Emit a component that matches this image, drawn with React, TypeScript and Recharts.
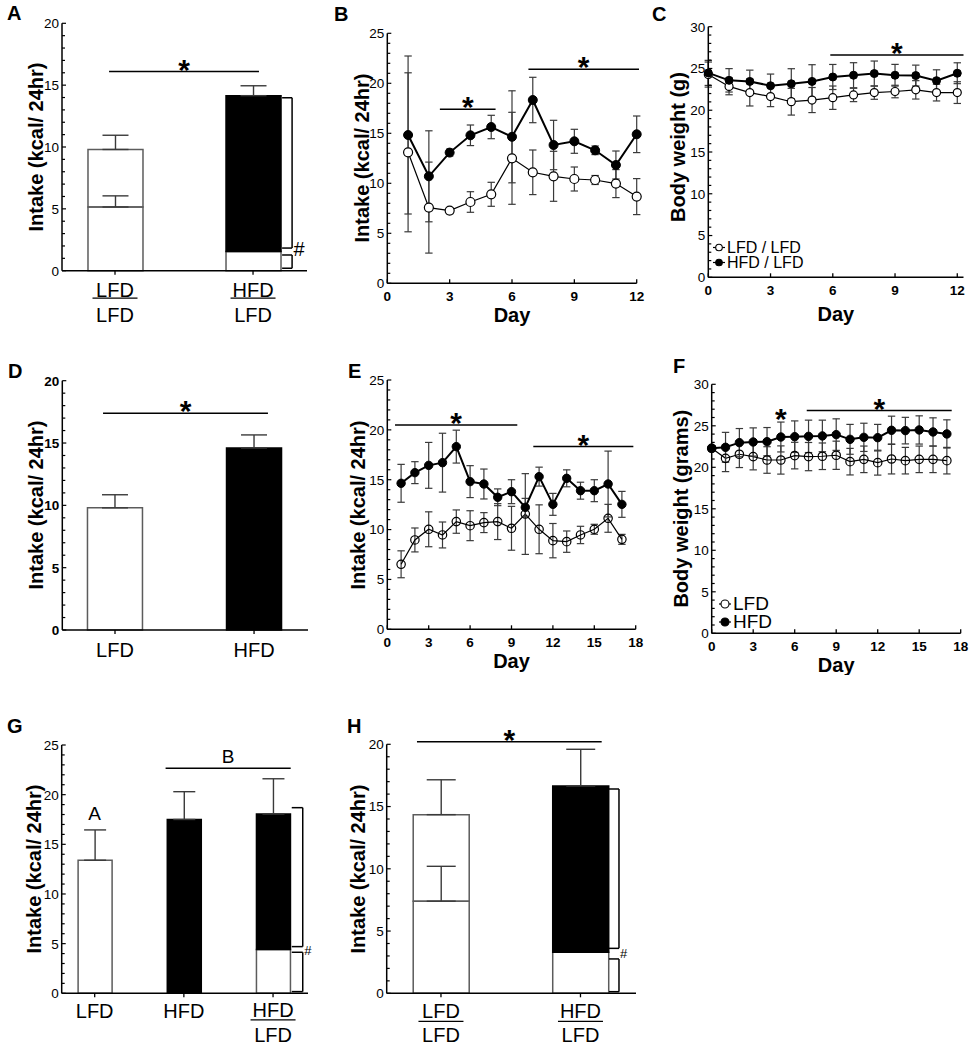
import React from "react";
import {
  Bar,
  BarChart,
  Cell,
  ErrorBar,
  Legend,
  Line,
  LineChart,
  ReferenceDot,
  ReferenceLine,
  XAxis,
  YAxis,
} from "recharts";

const FONT = '"Liberation Sans", Arial, Helvetica, sans-serif';

// ---------- data ----------

// A: 2-day intake (kcal/24hr), stacked by the diet eaten
const aLabels = [["LFD", "LFD"], ["HFD", "LFD"]];
const aLowerDiet = ["LFD", "LFD"];
const aLower = [5.15, 1.55];
const aLowerErr = [0.9, null];
const aUpperDiet = ["LFD", "HFD"];
const aUpper = [4.65, 12.6];
const aUpperErr = [1.15, 0.8];

// B: daily intake, 12 days
const bDays = [1, 2, 3, 4, 5, 6, 7, 8, 9, 10, 11, 12];
const bHfd = [14.83, 10.7, 13.07, 14.8, 15.63, 14.65, 18.33, 13.83, 14.2, 13.3, 11.83, 14.9];
const bHfdErr = [7.9, 4.55, 0.35, 1.03, 1.17, 4.6, 2.27, 2.47, 1.2, 0.43, 1.4, 1.83];
const bLfd = [13.1, 7.57, 7.27, 8.13, 8.9, 12.5, 11.1, 10.7, 10.43, 10.33, 9.97, 8.67];
const bLfdErr = [7.95, 4.55, 0.3, 1.03, 1.2, 4.6, 2.23, 2.5, 1.2, 0.45, 1.4, 1.8];

// C: body weight (g), days 0-12
const cSeries = ["LFD / LFD", "HFD / LFD"];
const cDays = [0, 1, 2, 3, 4, 5, 6, 7, 8, 9, 10, 11, 12];
const cHfd = [24.47, 23.58, 23.45, 22.93, 23.17, 23.45, 23.98, 24.19, 24.39, 24.19, 24.15, 23.54, 24.43];
const cHfdErr = [1.5, 1.4, 1.35, 1.4, 1.8, 2.0, 1.5, 1.5, 1.5, 1.3, 1.25, 1.3, 1.25];
const cLfd = [24.27, 22.85, 22.11, 21.63, 21.02, 21.22, 21.5, 21.83, 22.11, 22.24, 22.44, 22.11, 22.11];
const cLfdErr = [1.5, 1.0, 1.6, 1.2, 1.6, 1.5, 1.4, 0.8, 0.8, 0.75, 1.1, 1.0, 1.3];

// D: average intake
const dLabels = [["LFD"], ["HFD"]];
const dDiet = ["LFD", "HFD"];
const dIntake = [9.8, 14.6];
const dErr = [1.05, 1.05];

// E: daily intake, 17 days
const eDays = [1, 2, 3, 4, 5, 6, 7, 8, 9, 10, 11, 12, 13, 14, 15, 16, 17];
const eHfd = [14.64, 15.71, 16.44, 16.71, 18.32, 14.81, 14.57, 13.24, 13.8, 12.23, 15.31, 12.53, 15.14, 13.9, 13.9, 14.57, 12.53];
const eHfdErr = [1.9, 1.1, 2.3, 2.95, 1.65, 1.6, 1.5, 0.84, 1.2, 0.9, 0.95, 1.1, 0.85, 0.85, 1.1, 3.3, 1.3];
const eLfd = [6.52, 8.96, 10.03, 9.46, 10.8, 10.39, 10.7, 10.8, 10.13, 11.56, 10.03, 8.89, 8.79, 9.46, 10.03, 11.13, 9.02];
const eLfdErr = [1.35, 1.2, 1.75, 1.3, 1.17, 1.5, 1.0, 1.8, 2.2, 4.05, 2.45, 1.72, 1.07, 0.87, 0.5, 1.4, 0.5];

// F: body weight (grams), days 0-17
const fSeries = ["LFD", "HFD"];
const fDays = [0, 1, 2, 3, 4, 5, 6, 7, 8, 9, 10, 11, 12, 13, 14, 15, 16, 17];
const fHfd = [22.29, 22.41, 22.97, 23.05, 23.09, 23.65, 23.69, 23.73, 23.78, 23.94, 23.37, 23.61, 23.57, 24.46, 24.42, 24.5, 24.26, 24.02];
const fHfdErr = [0.3, 1.8, 1.7, 1.7, 1.7, 1.8, 1.9, 1.95, 1.9, 1.9, 1.8, 1.7, 1.6, 1.7, 1.6, 1.7, 1.7, 1.7];
const fLfd = [22.29, 21.08, 21.57, 21.29, 20.88, 20.88, 21.41, 21.29, 21.33, 21.45, 20.68, 20.96, 20.56, 21.0, 20.8, 20.96, 20.96, 20.8];
const fLfdErr = [0.3, 1.6, 1.6, 1.6, 1.6, 1.7, 1.6, 1.7, 1.6, 1.7, 1.6, 1.6, 1.5, 1.8, 1.6, 1.6, 1.6, 1.6];

// G: intake, three groups
const gLabels = [["LFD"], ["HFD"], ["HFD", "LFD"]];
const gLowerDiet = ["LFD", "HFD", "LFD"];
const gLower = [13.4, 17.5, 4.4];
const gLowerErr = [3.05, 2.8, null];
const gUpperDiet = ["LFD", "LFD", "HFD"];
const gUpper = [0, 0, 13.65];
const gUpperErr = [null, null, 3.55];

// H: intake, stacked by diet
const hLabels = [["LFD", "LFD"], ["HFD", "LFD"]];
const hLowerDiet = ["LFD", "LFD"];
const hLower = [7.4, 3.3];
const hLowerErr = [2.8, null];
const hUpperDiet = ["LFD", "HFD"];
const hUpper = [6.95, 13.35];
const hUpperErr = [2.8, 2.95];

const ticks20 = Array.from({ length: 21 }, (_, i) => i);
const ticks25 = Array.from({ length: 26 }, (_, i) => i);
const ticks30 = Array.from({ length: 31 }, (_, i) => i);

// ---------- helpers ----------

type Box = { L: number; T: number; W: number; H: number };
type Plot = { left: number; top: number; right: number; bottom: number };
type Sig = { x1: number; x2: number; y: number; text: string };
type Bracket = { x: number; y1: number; y2: number; len: number };
type Mark = { x: number; y: number; text: string; size?: number; dx?: number; star?: boolean };

const AXIS = { stroke: "#000", strokeWidth: 1.5 };
const ERR = "#3a3a3a";

const dietFill = (d: string) => (d === "HFD" ? "#000" : "none");
const dietStroke = (d: string) => (d === "HFD" ? "#000" : "#5c5c5c");

function barRows(
  lower: number[],
  lowerErr: (number | null)[],
  lowerDiet: string[],
  upper?: number[],
  upperErr?: (number | null)[],
  upperDiet?: string[]
) {
  return lower.map((v, i) => ({
    pos: i + 1,
    lower: v,
    lowerErr: lowerErr[i] == null ? null : [0, lowerErr[i]],
    lowerDiet: lowerDiet[i],
    upper: upper ? upper[i] : 0,
    upperErr: upperErr && upperErr[i] != null ? [0, upperErr[i]] : null,
    upperDiet: upperDiet ? upperDiet[i] : "LFD",
  }));
}

function lineRows(days: number[], hfd: number[], hfdErr: number[], lfd: number[], lfdErr: number[]) {
  return days.map((day, i) => ({ day, hfd: hfd[i], hfdErr: hfdErr[i], lfd: lfd[i], lfdErr: lfdErr[i] }));
}

function YTick(props: any) {
  const { x, y, payload, bold } = props;
  const major = payload.value % 5 === 0;
  return (
    <g>
      <line x1={x} x2={x + (major ? 4 : 3)} y1={y} y2={y} stroke="#000" strokeWidth={1.2} />
      {major && (
        <text x={x - 3} y={y} dy="0.36em" textAnchor="end" fontSize={13.5} fontWeight={bold ? 700 : 400} fill="#000">
          {payload.value}
        </text>
      )}
    </g>
  );
}

function DayTick(props: any) {
  const { x, y, payload } = props;
  return (
    <g>
      <line x1={x} x2={x} y1={y} y2={y - 4} stroke="#000" strokeWidth={1.3} />
      <text x={x} y={y + 18} textAnchor="middle" fontSize={13.5} fontWeight={700} fill="#000">
        {payload.value}
      </text>
    </g>
  );
}

function CatTick(props: any) {
  const { x, y, payload, labels, dy } = props;
  const lab: string[] = labels[Math.round(payload.value) - 1] || [];
  return (
    <g>
      <line x1={x} x2={x} y1={y} y2={y + 4} stroke="#000" strokeWidth={1.3} />
      {lab.length === 1 ? (
        <text x={x} y={y + dy[0] + 1} textAnchor="middle" fontSize={20} fill="#000">
          {lab[0]}
        </text>
      ) : (
        <g>
          <text x={x} y={y + dy[0]} textAnchor="middle" fontSize={20} fill="#000">
            {lab[0]}
          </text>
          <line x1={x - 22.5} x2={x + 22.5} y1={y + dy[1]} y2={y + dy[1]} stroke="#000" strokeWidth={1.3} />
          <text x={x} y={y + dy[2]} textAnchor="middle" fontSize={20} fill="#000">
            {lab[1]}
          </text>
        </g>
      )}
    </g>
  );
}

const yTitle = (text: string, cx: number, cy: number) => () => (
  <text
    x={cx}
    y={cy}
    transform={`rotate(-90 ${cx} ${cy})`}
    textAnchor="middle"
    dominantBaseline="central"
    fontSize={20}
    fontWeight={700}
    fill="#000"
  >
    {text}
  </text>
);

const dayTitle = (cx: number, y: number) => () => (
  <text x={cx} y={y} textAnchor="middle" fontSize={20} fontWeight={700} fill="#000">
    Day
  </text>
);

const sigLabel = (text: string) =>
  text === "*"
    ? { value: "*", position: "top" as const, offset: -8, fontSize: 30, fontWeight: 700, fill: "#000" }
    : { value: text, position: "top" as const, offset: 5, fontSize: 19, fontWeight: 400, fill: "#000" };

function renderSigs(sigs: Sig[]) {
  return sigs.map((s, i) => (
    <ReferenceLine
      key={"sig" + i}
      segment={[{ x: s.x1, y: s.y }, { x: s.x2, y: s.y }]}
      stroke="#000"
      strokeWidth={1.5}
      ifOverflow="visible"
      label={sigLabel(s.text)}
    />
  ));
}

// a bracket is a vertical stroke with two short ticks pointing back at the bar
function renderBrackets(brackets: Bracket[], pxPerUnit: number) {
  return brackets.flatMap((b, i) => {
    const k = b.len / pxPerUnit;
    const segs = [
      [{ x: b.x - k, y: b.y1 }, { x: b.x, y: b.y1 }],
      [{ x: b.x, y: b.y1 }, { x: b.x, y: b.y2 }],
      [{ x: b.x - k, y: b.y2 }, { x: b.x, y: b.y2 }],
    ];
    return segs.map((seg, j) => (
      <ReferenceLine
        key={`br${i}-${j}`}
        segment={seg}
        stroke="#000"
        strokeWidth={1.5}
        ifOverflow="visible"
      />
    ));
  });
}

function renderMarks(marks: Mark[]) {
  return marks.map((m, i) => (
    <ReferenceDot
      key={"mk" + i}
      x={m.x}
      y={m.y}
      ifOverflow="visible"
      shape={(p: any) =>
        m.star ? (
          <text x={p.cx} y={p.cy + 8} textAnchor="middle" fontSize={30} fontWeight={700} fill="#000">
            *
          </text>
        ) : (
          <text
            x={p.cx + (m.dx ?? 0)}
            y={p.cy}
            textAnchor={m.dx ? "start" : "middle"}
            dominantBaseline="central"
            fontSize={m.size}
            fill="#000"
          >
            {m.text}
          </text>
        )
      }
    />
  ));
}

type BarCfg = {
  box: Box;
  plot: Plot;
  rows: any[];
  labels: string[][];
  xDomain: [number, number];
  yMax: number;
  yTicks: number[];
  barSize: number;
  cap: number;
  tickDy: number[];
  boldY?: boolean;
  title: [number, number];
  sigs: Sig[];
  brackets: Bracket[];
  marks: Mark[];
};

function BarPanel({ cfg }: { cfg: BarCfg }) {
  const { box, plot, rows } = cfg;
  const pxPerUnit = (plot.right - plot.left) / (cfg.xDomain[1] - cfg.xDomain[0]);
  return (
    <div style={{ position: "absolute", left: box.L, top: box.T }}>
      <BarChart
        width={box.W}
        height={box.H}
        data={rows}
        margin={{ top: plot.top - box.T, right: box.L + box.W - plot.right, bottom: 0, left: 0 }}
      >
        <XAxis
          type="number"
          dataKey="pos"
          domain={cfg.xDomain}
          ticks={rows.map((r) => r.pos)}
          interval={0}
          height={box.T + box.H - plot.bottom}
          tickSize={0}
          tickMargin={0}
          tickLine={false}
          axisLine={AXIS}
          tick={(p: any) => <CatTick {...p} labels={cfg.labels} dy={cfg.tickDy} />}
        />
        <YAxis
          type="number"
          domain={[0, cfg.yMax]}
          ticks={cfg.yTicks}
          interval={0}
          width={plot.left - box.L}
          tickSize={0}
          tickMargin={0}
          tickLine={false}
          axisLine={AXIS}
          tick={(p: any) => <YTick {...p} bold={cfg.boldY} />}
          label={yTitle("Intake (kcal/ 24hr)", cfg.title[0] - box.L, cfg.title[1] - box.T)}
        />
        <Bar dataKey="lower" stackId="s" barSize={cfg.barSize} isAnimationActive={false}>
          {rows.map((r, i) => (
            <Cell key={i} fill={dietFill(r.lowerDiet)} stroke={dietStroke(r.lowerDiet)} strokeWidth={1.5} />
          ))}
          <ErrorBar dataKey="lowerErr" direction="y" width={cfg.cap} stroke={ERR} strokeWidth={1.4} />
        </Bar>
        <Bar dataKey="upper" stackId="s" barSize={cfg.barSize} isAnimationActive={false}>
          {rows.map((r, i) => (
            <Cell key={i} fill={dietFill(r.upperDiet)} stroke={dietStroke(r.upperDiet)} strokeWidth={1.5} />
          ))}
          <ErrorBar dataKey="upperErr" direction="y" width={cfg.cap} stroke={ERR} strokeWidth={1.4} />
        </Bar>
        {renderSigs(cfg.sigs)}
        {renderBrackets(cfg.brackets, pxPerUnit)}
        {renderMarks(cfg.marks)}
      </BarChart>
    </div>
  );
}

type LineCfg = {
  box: Box;
  plot: Plot;
  rows: any[];
  xMax: number;
  xTicks: number[];
  yMax: number;
  yTicks: number[];
  yLabel: string;
  title: [number, number];
  dayY: number;
  r: number;
  openFill: string;
  sigs: Sig[];
  marks: Mark[];
  legend?: { names: string[]; left: number; top: number; fontSize: number; rowH: number; r: number };
};

function LinePanel({ cfg }: { cfg: LineCfg }) {
  const { box, plot, rows } = cfg;
  const lg = cfg.legend;
  const dayX = (plot.left + plot.right) / 2 - box.L;
  return (
    <div style={{ position: "absolute", left: box.L, top: box.T }}>
      <LineChart
        width={box.W}
        height={box.H}
        data={rows}
        margin={{ top: plot.top - box.T, right: box.L + box.W - plot.right, bottom: 0, left: 0 }}
      >
        <XAxis
          type="number"
          dataKey="day"
          domain={[0, cfg.xMax]}
          ticks={cfg.xTicks}
          interval={0}
          height={box.T + box.H - plot.bottom}
          tickSize={0}
          tickMargin={0}
          tickLine={false}
          axisLine={AXIS}
          tick={(p: any) => <DayTick {...p} />}
          label={dayTitle(dayX, cfg.dayY - box.T)}
        />
        <YAxis
          type="number"
          domain={[0, cfg.yMax]}
          ticks={cfg.yTicks}
          interval={0}
          width={plot.left - box.L}
          tickSize={0}
          tickMargin={0}
          tickLine={false}
          axisLine={AXIS}
          tick={(p: any) => <YTick {...p} />}
          label={yTitle(cfg.yLabel, cfg.title[0] - box.L, cfg.title[1] - box.T)}
        />
        <Line
          dataKey="lfd"
          type="linear"
          stroke="#000"
          strokeWidth={1.2}
          dot={{ r: cfg.r, fill: cfg.openFill, stroke: "#000", strokeWidth: 1.2 }}
          activeDot={false}
          isAnimationActive={false}
        >
          <ErrorBar dataKey="lfdErr" direction="y" width={3.7} stroke={ERR} strokeWidth={1.2} />
        </Line>
        <Line
          dataKey="hfd"
          type="linear"
          stroke="#000"
          strokeWidth={2}
          dot={{ r: cfg.r, fill: "#000", stroke: "#000", strokeWidth: 1 }}
          activeDot={false}
          isAnimationActive={false}
        >
          <ErrorBar dataKey="hfdErr" direction="y" width={3.7} stroke={ERR} strokeWidth={1.2} />
        </Line>
        {renderSigs(cfg.sigs)}
        {renderMarks(cfg.marks)}
        {lg && (
          <Legend
            layout="vertical"
            align="center"
            verticalAlign="middle"
            wrapperStyle={{ left: lg.left, top: lg.top, width: "auto" }}
            content={() => (
              <div style={{ fontFamily: FONT, fontSize: lg.fontSize, color: "#000" }}>
                {lg.names.map((name, i) => (
                  <div key={name} style={{ display: "flex", alignItems: "center", height: lg.rowH }}>
                    <svg width={14} height={lg.rowH}>
                      <line x1={1} x2={13} y1={lg.rowH / 2} y2={lg.rowH / 2} stroke="#000" strokeWidth={1.2} />
                      <circle
                        cx={7}
                        cy={lg.rowH / 2}
                        r={lg.r}
                        fill={i === 0 ? "#fff" : "#000"}
                        stroke="#000"
                        strokeWidth={1.1}
                      />
                    </svg>
                    <span style={{ marginLeft: 1, whiteSpace: "nowrap", lineHeight: `${lg.rowH}px` }}>{name}</span>
                  </div>
                ))}
              </div>
            )}
          />
        )}
      </LineChart>
    </div>
  );
}

// ---------- panel layouts ----------

const panelA: BarCfg = {
  box: { L: 0, T: 0, W: 330, H: 330 },
  plot: { left: 62, top: 23.3, right: 307, bottom: 270.7 },
  rows: barRows(aLower, aLowerErr, aLowerDiet, aUpper, aUpperErr, aUpperDiet),
  labels: aLabels,
  xDomain: [0.616, 2.391],
  yMax: 20,
  yTicks: ticks20,
  barSize: 55,
  cap: 13,
  tickDy: [26, 27.5, 51],
  title: [36, 147],
  sigs: [{ x1: 0.957, x2: 2.043, y: 16.1, text: "*" }],
  brackets: [
    { x: 2.283, y1: 13.98, y2: 1.83, len: 10 },
    { x: 2.283, y1: 1.27, y2: 0.2, len: 10 },
  ],
  marks: [{ x: 2.283, y: 1.73, text: "#", size: 20, dx: 1.5 }],
};

const panelD: BarCfg = {
  box: { L: 0, T: 330, W: 330, H: 330 },
  plot: { left: 62.3, top: 380.7, right: 308, bottom: 630 },
  rows: barRows(dIntake, dErr, dDiet),
  labels: dLabels,
  xDomain: [0.621, 2.388],
  yMax: 20,
  yTicks: ticks20,
  barSize: 55,
  cap: 13,
  tickDy: [26, 0, 0],
  boldY: true,
  title: [36, 505],
  sigs: [{ x1: 0.914, x2: 2.1, y: 17.38, text: "*" }],
  brackets: [],
  marks: [],
};

const panelG: BarCfg = {
  box: { L: 0, T: 660, W: 330, H: 390 },
  plot: { left: 61.7, top: 745, right: 308, bottom: 993.3 },
  rows: barRows(gLower, gLowerErr, gLowerDiet, gUpper, gUpperErr, gUpperDiet),
  labels: gLabels,
  xDomain: [0.63, 3.392],
  yMax: 25,
  yTicks: ticks25,
  barSize: 34,
  cap: 11,
  tickDy: [24, 26.5, 49],
  title: [34, 869],
  sigs: [{ x1: 1.795, x2: 3.198, y: 22.65, text: "B" }],
  brackets: [
    { x: 3.333, y1: 18.69, y2: 4.7, len: 11 },
    { x: 3.333, y1: 4.13, y2: 0.17, len: 11 },
  ],
  marks: [
    { x: 1, y: 18.06, text: "A", size: 19 },
    { x: 3.333, y: 4.3, text: "#", size: 13, dx: 1.5 },
  ],
};

const panelH: BarCfg = {
  box: { L: 330, T: 660, W: 330, H: 390 },
  plot: { left: 386.7, top: 744.3, right: 636, bottom: 993.3 },
  rows: barRows(hLower, hLowerErr, hLowerDiet, hUpper, hUpperErr, hUpperDiet),
  labels: hLabels,
  xDomain: [0.611, 2.398],
  yMax: 20,
  yTicks: ticks20,
  barSize: 56,
  cap: 14.5,
  tickDy: [25, 28, 49],
  title: [358, 869],
  sigs: [{ x1: 0.828, x2: 2.152, y: 20.2, text: "*" }],
  brackets: [
    { x: 2.276, y1: 16.41, y2: 3.61, len: 10 },
    { x: 2.276, y1: 2.76, y2: 0.13, len: 10 },
  ],
  marks: [{ x: 2.276, y: 3.16, text: "#", size: 13, dx: 1 }],
};

const panelB: LineCfg = {
  box: { L: 330, T: 0, W: 320, H: 330 },
  plot: { left: 387.3, top: 33.3, right: 636.7, bottom: 283.3 },
  rows: lineRows(bDays, bHfd, bHfdErr, bLfd, bLfdErr),
  xMax: 12,
  xTicks: [0, 3, 6, 9, 12],
  yMax: 25,
  yTicks: ticks25,
  yLabel: "Intake (kcal/ 24hr)",
  title: [362, 158],
  dayY: 321.7,
  r: 4.5,
  openFill: "#fff",
  sigs: [
    { x1: 2.53, x2: 5.21, y: 17.4, text: "*" },
    { x1: 6.79, x2: 12.11, y: 21.4, text: "*" },
  ],
  marks: [],
};

const panelC: LineCfg = {
  box: { L: 650, T: 0, W: 326, H: 330 },
  plot: { left: 708.3, top: 26.7, right: 963.5, bottom: 277.3 },
  rows: lineRows(cDays, cHfd, cHfdErr, cLfd, cLfdErr),
  xMax: 12.3,
  xTicks: [0, 3, 6, 9, 12],
  yMax: 30,
  yTicks: ticks30,
  yLabel: "Body weight (g)",
  title: [677.5, 147],
  dayY: 321,
  r: 4,
  openFill: "#fff",
  sigs: [{ x1: 5.88, x2: 12.3, y: 26.6, text: "*" }],
  marks: [],
  legend: { names: cSeries, left: 62, top: 239.5, fontSize: 16, rowH: 15, r: 3.3 },
};

const panelE: LineCfg = {
  box: { L: 330, T: 330, W: 320, H: 345 },
  plot: { left: 387.3, top: 380, right: 635.7, bottom: 629.3 },
  rows: lineRows(eDays, eHfd, eHfdErr, eLfd, eLfdErr),
  xMax: 18,
  xTicks: [0, 3, 6, 9, 12, 15, 18],
  yMax: 25,
  yTicks: ticks25,
  yLabel: "Intake (kcal/ 24hr)",
  title: [358, 505],
  dayY: 667.7,
  r: 4.2,
  openFill: "none",
  sigs: [
    { x1: 0.56, x2: 9.42, y: 20.49, text: "*" },
    { x1: 10.58, x2: 17.83, y: 18.32, text: "*" },
  ],
  marks: [],
};

const panelF: LineCfg = {
  box: { L: 650, T: 330, W: 326, H: 345 },
  plot: { left: 711.7, top: 384.3, right: 960.7, bottom: 633.3 },
  rows: lineRows(fDays, fHfd, fHfdErr, fLfd, fLfdErr),
  xMax: 18,
  xTicks: [0, 3, 6, 9, 12, 15, 18],
  yMax: 30,
  yTicks: ticks30,
  yLabel: "Body weight (grams)",
  title: [681, 508.7],
  dayY: 671.7,
  r: 4.2,
  openFill: "none",
  sigs: [{ x1: 6.87, x2: 17.35, y: 26.83, text: "*" }],
  marks: [{ x: 5, y: 25.63, text: "*", star: true }],
  legend: { names: fSeries, left: 68, top: 264.5, fontSize: 19, rowH: 18, r: 4 },
};

const letters: [string, number, number][] = [
  ["A", 7, 20],
  ["B", 334, 21],
  ["C", 652, 21],
  ["D", 8, 378],
  ["E", 348, 378],
  ["F", 673, 373],
  ["G", 7, 733],
  ["H", 347, 733],
];

export default function App() {
  return (
    <div
      style={{
        position: "absolute",
        left: 0,
        top: 0,
        width: 976,
        height: 1050,
        background: "#fff",
        fontFamily: FONT,
        overflow: "hidden",
      }}
    >
      <BarPanel cfg={panelA} />
      <LinePanel cfg={panelB} />
      <LinePanel cfg={panelC} />
      <BarPanel cfg={panelD} />
      <LinePanel cfg={panelE} />
      <LinePanel cfg={panelF} />
      <BarPanel cfg={panelG} />
      <BarPanel cfg={panelH} />
      {letters.map(([t, x, base]) => (
        <div
          key={t}
          style={{
            position: "absolute",
            left: x,
            top: base - 17,
            fontSize: 20,
            lineHeight: "20px",
            fontWeight: 700,
            color: "#000",
          }}
        >
          {t}
        </div>
      ))}
    </div>
  );
}
